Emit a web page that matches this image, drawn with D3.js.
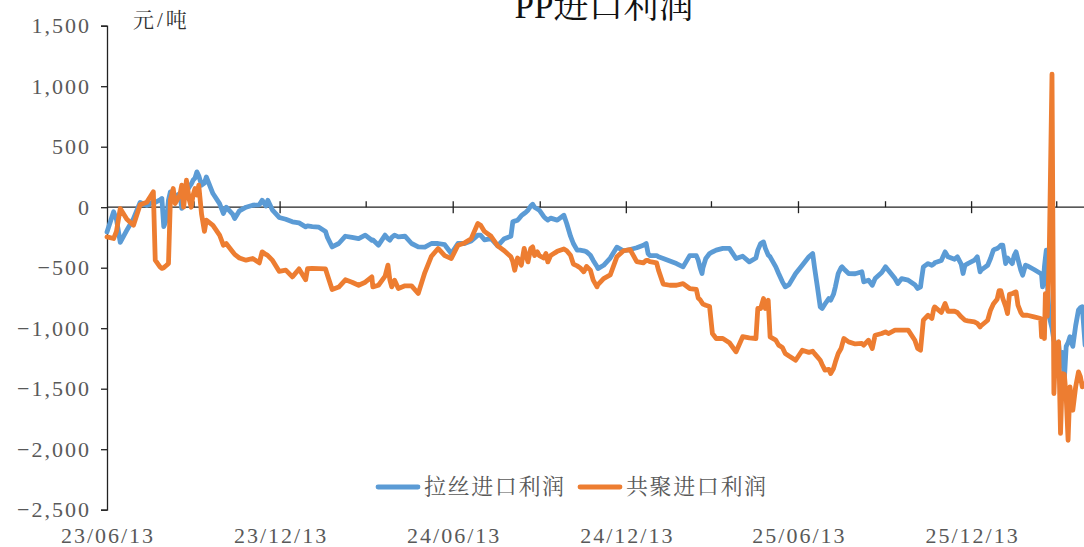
<!DOCTYPE html>
<html>
<head>
<meta charset="utf-8">
<script src="https://cdn.jsdelivr.net/npm/d3@7/dist/d3.min.js"></script>
<style>
  html, body { margin: 0; padding: 0; background: #fff; }
  svg { display: block; }
  .serif { font-family: "Liberation Serif", "Noto Serif CJK SC", "Noto Sans CJK SC", serif; }
</style>
</head>
<body>
<svg id="chart" width="1084" height="547"></svg>
<script>
// PP import profit, yuan per tonne
const dates = [
  "2023-06-13","2023-06-20","2023-06-23","2023-06-27","2023-07-04","2023-07-11","2023-07-18","2023-07-25",
  "2023-08-01","2023-08-03","2023-08-08","2023-08-10","2023-08-12","2023-08-15","2023-08-17","2023-08-19",
  "2023-08-22","2023-08-24","2023-08-29","2023-08-31","2023-09-02","2023-09-05","2023-09-08","2023-09-10",
  "2023-09-12","2023-09-14","2023-09-16","2023-09-18","2023-09-21","2023-09-24","2023-09-26","2023-10-03",
  "2023-10-10","2023-10-14","2023-10-17","2023-10-24","2023-10-26","2023-10-31","2023-11-07","2023-11-14",
  "2023-11-21","2023-11-24","2023-11-28","2023-11-30","2023-12-05","2023-12-12","2023-12-19","2023-12-26",
  "2024-01-02","2024-01-09","2024-01-11","2024-01-16","2024-01-23","2024-01-30","2024-02-01","2024-02-06",
  "2024-02-13","2024-02-20","2024-02-27","2024-03-05","2024-03-12","2024-03-19","2024-03-20","2024-03-26",
  "2024-04-02","2024-04-05","2024-04-07","2024-04-09","2024-04-12","2024-04-16","2024-04-23","2024-04-30",
  "2024-05-07","2024-05-14","2024-05-21","2024-05-28","2024-06-04","2024-06-11","2024-06-18","2024-06-25",
  "2024-07-02","2024-07-09","2024-07-12","2024-07-16","2024-07-23","2024-07-30","2024-08-06","2024-08-13",
  "2024-08-15","2024-08-17","2024-08-20","2024-08-22","2024-08-24","2024-08-27","2024-08-29","2024-08-31",
  "2024-09-03","2024-09-05","2024-09-07","2024-09-10","2024-09-12","2024-09-17","2024-09-19","2024-09-21",
  "2024-09-24","2024-10-01","2024-10-08","2024-10-11","2024-10-15","2024-10-18","2024-10-22","2024-10-25",
  "2024-10-29","2024-11-01","2024-11-05","2024-11-08","2024-11-12","2024-11-13","2024-11-19","2024-11-26",
  "2024-12-03","2024-12-10","2024-12-17","2024-12-24","2024-12-31","2025-01-03","2025-01-05","2025-01-07",
  "2025-01-14","2025-01-16","2025-01-21","2025-01-28","2025-02-04","2025-02-11","2025-02-18","2025-02-25",
  "2025-02-27","2025-03-01","2025-03-03","2025-03-04","2025-03-07","2025-03-11","2025-03-14","2025-03-18",
  "2025-03-25","2025-04-01","2025-04-08","2025-04-15","2025-04-22","2025-04-29","2025-05-01","2025-05-04",
  "2025-05-07","2025-05-09","2025-05-12","2025-05-14","2025-05-20","2025-05-23","2025-05-27","2025-05-30",
  "2025-06-03","2025-06-10","2025-06-17","2025-06-24","2025-06-28","2025-06-30","2025-07-03","2025-07-06",
  "2025-07-08","2025-07-11","2025-07-15","2025-07-17","2025-07-20","2025-07-22","2025-07-25","2025-07-28",
  "2025-07-29","2025-07-31","2025-08-05","2025-08-12","2025-08-19","2025-08-21","2025-08-26","2025-08-30",
  "2025-09-02","2025-09-09","2025-09-13","2025-09-16","2025-09-23","2025-09-26","2025-09-30","2025-10-07",
  "2025-10-14","2025-10-17","2025-10-20","2025-10-21","2025-10-23","2025-10-28","2025-11-01","2025-11-03",
  "2025-11-04","2025-11-11","2025-11-15","2025-11-18","2025-11-25","2025-11-28","2025-12-02","2025-12-04",
  "2025-12-06","2025-12-09","2025-12-16","2025-12-19","2025-12-22","2025-12-23","2025-12-30","2026-01-02",
  "2026-01-05","2026-01-06","2026-01-09","2026-01-11","2026-01-13","2026-01-15","2026-01-18","2026-01-20",
  "2026-01-22","2026-01-25","2026-01-27","2026-01-29","2026-01-31","2026-02-03","2026-02-05","2026-02-08",
  "2026-02-10","2026-02-17","2026-02-24","2026-02-25","2026-02-26","2026-02-27","2026-02-28","2026-03-01",
  "2026-03-02","2026-03-03","2026-03-05","2026-03-08","2026-03-10","2026-03-12","2026-03-14","2026-03-15",
  "2026-03-17","2026-03-19","2026-03-21","2026-03-23","2026-03-25","2026-03-27","2026-03-30","2026-04-02",
  "2026-04-05","2026-04-07","2026-04-09","2026-04-12"
];

// 拉丝进口利润
const lasiProfit = [
  -204,-38,-100,-290,-190,-95,40,16,
  44,40,60,72,-160,-100,60,127,
  85,90,113,-10,60,130,168,190,
  223,240,292,260,182,200,250,113,
  30,-52,0,-60,-94,-30,0,16,
  20,58,10,58,-25,-85,-100,-121,
  -130,-163,-155,-160,-165,-200,-250,-328,
  -300,-240,-250,-260,-231,-273,-270,-314,
  -231,-260,-273,-250,-231,-245,-240,-300,
  -328,-330,-300,-300,-310,-383,-300,-300,
  -280,-231,-231,-270,-259,-320,-260,-240,
  -121,-115,-107,-90,-70,-52,-40,-25,
  10,25,0,-15,-25,-80,-95,-107,
  -90,-107,-66,-135,-240,-300,-355,-355,
  -360,-369,-397,-440,-490,-507,-480,-420,
  -330,-360,-350,-335,-314,-300,-383,-400,
  -400,-410,-424,-445,-466,-493,-400,-400,
  -438,-500,-548,-500,-424,-383,-370,-355,
  -340,-340,-424,-405,-452,-420,-355,-300,
  -287,-340,-395,-410,-493,-548,-617,-658,
  -640,-548,-480,-410,-383,-500,-658,-824,
  -837,-800,-755,-769,-720,-658,-548,-500,
  -493,-510,-548,-550,-534,-617,-603,-645,
  -590,-540,-493,-521,-590,-631,-590,-603,
  -640,-672,-658,-600,-493,-466,-480,-470,
  -460,-440,-369,-410,-430,-410,-470,-548,
  -480,-466,-438,-410,-534,-520,-480,-424,
  -355,-350,-341,-330,-314,-314,-466,-420,
  -440,-466,-400,-369,-430,-520,-562,-479,
  -485,-515,-548,-560,-658,-600,-493,-420,
  -355,-600,-900,-1000,-1100,-1140,-1150,-1130,
  -1300,-1200,-1430,-1150,-1120,-1070,-1150,-980,
  -850,-830,-823,-1140
];

// 共聚进口利润
const gongjuProfit = [
  -245,-259,-200,-11,-100,-149,20,40,
  127,-438,-493,-506,-500,-480,-465,58,
  154,30,100,182,0,223,60,0,
  100,154,100,182,-60,-200,-107,-150,
  -230,-314,-300,-370,-390,-420,-438,-424,
  -460,-369,-390,-400,-440,-530,-520,-576,
  -510,-600,-507,-505,-507,-510,-560,-680,
  -660,-600,-620,-645,-620,-576,-658,-645,
  -570,-479,-600,-658,-603,-672,-650,-650,
  -713,-540,-405,-341,-400,-424,-314,-295,
  -260,-135,-150,-200,-240,-320,-360,-410,
  -450,-521,-420,-440,-479,-341,-400,-452,
  -340,-328,-400,-369,-400,-420,-383,-452,
  -400,-365,-345,-360,-397,-470,-485,-500,
  -534,-490,-520,-603,-658,-640,-590,-560,
  -410,-360,-350,-450,-460,-440,-440,-450,
  -460,-520,-635,-645,-645,-631,-672,-680,
  -750,-765,-790,-800,-810,-820,-1044,-1085,
  -1085,-1120,-1195,-1070,-1080,-1085,-837,-837,
  -755,-837,-769,-1072,-1099,-1140,-1160,-1209,
  -1230,-1265,-1182,-1200,-1190,-1210,-1237,-1265,
  -1300,-1347,-1340,-1375,-1333,-1280,-1209,-1168,
  -1140,-1085,-1113,-1130,-1126,-1140,-1099,-1168,
  -1058,-1044,-1030,-1044,-1016,-1016,-1016,-1016,
  -1100,-1168,-1182,-1100,-934,-893,-920,-840,
  -824,-870,-796,-860,-860,-870,-906,-920,
  -934,-940,-948,-960,-989,-980,-934,-851,
  -800,-790,-760,-690,-690,-755,-820,-879,
  -720,-714,-705,-700,-810,-870,-893,-893,
  -893,-906,-920,-1072,-950,-1000,-1085,-714,
  -800,-900,-438,1100,-1540,-1150,-1120,-1113,
  -1870,-1375,-1380,-1567,-1926,-1485,-1678,-1485,
  -1361,-1400,-1485,-1457
];

const seriesNames = ["拉丝进口利润", "共聚进口利润"];
const seriesColors = ["#5B9BD5", "#ED7D31"];

const yTicks = [1500, 1000, 500, 0, -500, -1000, -1500, -2000, -2500];
const xLabelDates = ["2023-06-13", "2023-12-13", "2024-06-13", "2024-12-13", "2025-06-13", "2025-12-13"];
const xMinorDates = ["2023-09-13", "2024-03-13", "2024-09-13", "2025-03-13", "2025-09-13", "2026-03-13"];
const xDomain = ["2023-06-13", "2026-04-14"];

const parse = d3.timeParse("%Y-%m-%d");
const svg = d3.select("#chart");

const x = d3.scaleTime().domain(xDomain.map(parse)).range([107, 1087]);
const y = d3.scaleLinear().domain([-2500, 1500]).range([509.7, 25.7]);

const labelColor = "#595959";

// Title (runs off the top edge)
svg.append("text")
  .attr("class", "serif")
  .attr("x", 604).attr("y", 18)
  .attr("text-anchor", "middle")
  .attr("font-size", 35)
  .attr("fill", "#111")
  .text("PP进口利润");

// Unit label
svg.append("text")
  .attr("class", "serif")
  .attr("x", 133).attr("y", 27)
  .attr("font-size", 21)
  .attr("letter-spacing", 3)
  .attr("fill", "#333")
  .text("元/吨");

// Y axis
const yAxis = d3.axisLeft(y)
  .tickValues(yTicks)
  .tickSize(6)
  .tickPadding(10)
  .tickFormat(d3.format(","));
const gy = svg.append("g").attr("transform", "translate(107,0)").call(yAxis);
gy.select(".domain").attr("stroke", "#222").attr("stroke-width", 1.3);
gy.selectAll(".tick line").attr("stroke", "#222").attr("stroke-width", 1.3);
gy.selectAll(".tick text")
  .attr("class", "serif")
  .attr("font-size", 22)
  .attr("letter-spacing", 2)
  .attr("fill", labelColor);

// X axis line along zero, major ticks crossing, minor ticks above
const zeroY = y(0);
svg.append("line")
  .attr("x1", 107).attr("x2", 1084)
  .attr("y1", zeroY).attr("y2", zeroY)
  .attr("stroke", "#222").attr("stroke-width", 1.3);

svg.append("g").selectAll("line.major")
  .data(xLabelDates.slice(1).map(parse))
  .join("line")
  .attr("x1", d => x(d)).attr("x2", d => x(d))
  .attr("y1", zeroY - 6).attr("y2", zeroY + 6)
  .attr("stroke", "#222").attr("stroke-width", 1.3);

svg.append("g").selectAll("line.minor")
  .data(xMinorDates.map(parse))
  .join("line")
  .attr("x1", d => x(d)).attr("x2", d => x(d))
  .attr("y1", zeroY - 6).attr("y2", zeroY)
  .attr("stroke", "#222").attr("stroke-width", 1.3);

// Date labels at the bottom
const fmt = d3.timeFormat("%y/%m/%d");
svg.append("g").selectAll("text")
  .data(xLabelDates.map(parse))
  .join("text")
  .attr("class", "serif")
  .attr("x", d => x(d) + 1)
  .attr("y", 543)
  .attr("text-anchor", "middle")
  .attr("font-size", 22)
  .attr("letter-spacing", 2)
  .attr("fill", labelColor)
  .text(d => fmt(d));

// Series lines
const parsedDates = dates.map(parse);
const line = d3.line()
  .x((d, i) => x(parsedDates[i]))
  .y(d => y(d));

[lasiProfit, gongjuProfit].forEach((vals, i) => {
  svg.append("path")
    .datum(vals)
    .attr("fill", "none")
    .attr("stroke", seriesColors[i])
    .attr("stroke-width", 4.8)
    .attr("stroke-linejoin", "round")
    .attr("stroke-linecap", "round")
    .attr("d", line);
});

// Legend
const legendItems = [
  { name: seriesNames[0], color: seriesColors[0], x: 378 },
  { name: seriesNames[1], color: seriesColors[1], x: 580 }
];
const lg = svg.append("g");
legendItems.forEach(it => {
  lg.append("line")
    .attr("x1", it.x).attr("x2", it.x + 40)
    .attr("y1", 487).attr("y2", 487)
    .attr("stroke", it.color).attr("stroke-width", 4.8)
    .attr("stroke-linecap", "round");
  lg.append("text")
    .attr("class", "serif")
    .attr("x", it.x + 46).attr("y", 494)
    .attr("font-size", 22)
    .attr("letter-spacing", 1.6)
    .attr("fill", labelColor)
    .text(it.name);
});
</script>
</body>
</html>
